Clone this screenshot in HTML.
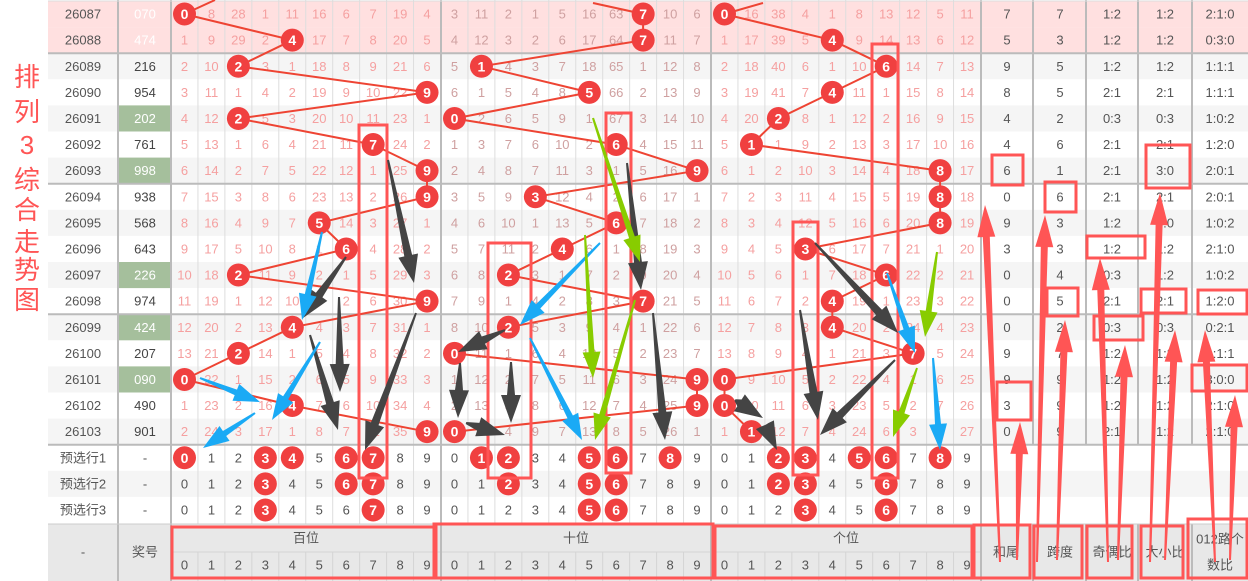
<!DOCTYPE html>
<html><head><meta charset="utf-8">
<style>
html,body{margin:0;padding:0;background:#fff;}
svg{display:block;font-family:"Liberation Sans","Noto Sans CJK SC",sans-serif;}
</style></head>
<body>
<svg id="s" width="1248" height="581" viewBox="0 0 1248 581" xmlns="http://www.w3.org/2000/svg"></svg>
<script>
var S=document.getElementById('s');var out=[];
function A(t){out.push(t);}
var draws=["070","474","216","954","202","761","998","938","568","643","226","974","424","207","090","490","901"];
var periods=[];for(var i=0;i<17;i++)periods.push(26087+i);
var green={26091:1,26093:1,26097:1,26099:1,26101:1};
var init=[[0,8,28,1,11,16,6,7,19,4],[3,11,2,1,5,16,63,0,10,6],[0,16,38,4,1,8,13,12,5,11]];
var RH=26.1;function ty(i){return 1+RH*i;}function cy(i){return ty(i)+RH/2;}
var sx=[171,441,711];var CW=26.95;function cx(s,d){return sx[s]+CW*d+13.5;}
for(var i=0;i<20;i++){var bg=i<2?'#ffe0e0':(i%2==0?'#f5f5f5':'#fff');
 A('<rect x="48" y="'+ty(i)+'" width="1200" height="'+RH+'" fill="'+bg+'"/>');}
for(var i=0;i<17;i++){if(green[periods[i]])A('<rect x="119" y="'+ty(i)+'" width="52" height="'+RH+'" fill="#a5bf9c"/>');}
A('<rect x="48" y="524" width="1200" height="57" fill="#e8e8e8"/>');
for(var s=0;s<3;s++)for(var d=1;d<10;d++){var x=sx[s]+CW*d;A('<line x1="'+x+'" y1="0" x2="'+x+'" y2="524" stroke="#ddd"/>');A('<line x1="'+x+'" y1="552" x2="'+x+'" y2="581" stroke="#d4d4d4"/>');}
A('<line x1="171" y1="552" x2="981" y2="552" stroke="#d4d4d4"/>');
[118,171,441,711,981,1033,1086,1138,1192].forEach(function(x){var y2=(x>981)?445:581;A('<line x1="'+x+'" y1="0" x2="'+x+'" y2="'+y2+'" stroke="#bbb" stroke-width="2"/>');});
[1033,1086,1138,1192].forEach(function(x){A('<line x1="'+x+'" y1="524" x2="'+x+'" y2="581" stroke="#bbb" stroke-width="2"/>');});
[ty(2),ty(7),ty(12),ty(17)].forEach(function(y){A('<line x1="48" y1="'+y+'" x2="1248" y2="'+y+'" stroke="#bbb" stroke-width="2"/>');});
A('<line x1="48" y1="1" x2="1248" y2="1" stroke="#ddd"/>');
A('<line x1="48" y1="524" x2="1248" y2="524" stroke="#ccc"/>');
var tt=[["排",77],["列",112],["3",145],["综",180],["合",210],["走",242],["势",270],["图",300]];
tt.forEach(function(t){A('<text x="27" y="'+(t[1]+9)+'" font-size="26" fill="#f55" text-anchor="middle">'+t[0]+'</text>');});
function T(x,y,t,c,sz){A('<text x="'+x+'" y="'+(y+4.5)+'" font-size="'+(sz||13)+'" fill="'+c+'" text-anchor="middle">'+t+'</text>');}
var cur=init.map(function(a){return a.slice();});
var balls=[[],[],[]];
for(var i=0;i<17;i++){
 var dg=draws[i].split('').map(Number);
 if(i>0){for(var s=0;s<3;s++)for(var d=0;d<10;d++){cur[s][d]++;} for(var s=0;s<3;s++)cur[s][dg[s]]=0;}
 for(var s=0;s<3;s++){balls[s].push([cx(s,dg[s]),cy(i)]);
  for(var d=0;d<10;d++){if(d!=dg[s])T(cx(s,d),cy(i),cur[s][d],s==1?'#cfa0a0':'#f5a0a0');}}
}
A('<line x1="184.5" y1="14" x2="215" y2="0" stroke="#e43" stroke-width="2"/>');
A('<line x1="593" y1="3" x2="643" y2="14" stroke="#e43" stroke-width="2"/>');
A('<line x1="724.5" y1="14" x2="763" y2="3" stroke="#e43" stroke-width="2"/>');
for(var s=0;s<3;s++){var p=balls[s].map(function(b){return b[0].toFixed(1)+','+b[1].toFixed(1);}).join(' ');A('<polyline points="'+p+'" fill="none" stroke="#e43" stroke-width="2"/>');}
function ball(x,y,t){A('<circle cx="'+x+'" cy="'+y+'" r="11.5" fill="#f04040"/>');A('<text x="'+x+'" y="'+(y+5)+'" font-size="14" font-weight="bold" fill="#fff" text-anchor="middle">'+t+'</text>');}
for(var i=0;i<17;i++){var dg=draws[i].split('').map(Number);for(var s=0;s<3;s++)ball(cx(s,dg[s]),cy(i),dg[s]);
 T(83,cy(i),periods[i],'#555',13);T(145,cy(i),draws[i],(i<2||green[periods[i]])?'#fff':'#444',13);
 var sum=dg[0]+dg[1]+dg[2];var odd=dg.filter(function(v){return v%2;}).length;var big=dg.filter(function(v){return v>=5;}).length;
 var m=[0,0,0];dg.forEach(function(v){m[v%3]++;});
 T(1007,cy(i),sum%10,'#555');T(1060,cy(i),Math.max.apply(0,dg)-Math.min.apply(0,dg),'#555');
 T(1112,cy(i),odd+':'+(3-odd),'#555');T(1165,cy(i),big+':'+(3-big),'#555');T(1220,cy(i),m.join(':'),'#555');}
var pre=[[[0,3,4,6,7],[1,2,5,6,8],[2,3,5,6,8]],[[3,6,7],[2,5,6],[2,3,6]],[[3,7],[5,6],[3,6]]];
for(var r=0;r<3;r++){var i=17+r;T(83,cy(i),'预选行'+(r+1),'#555');T(145,cy(i),'-','#555');
 for(var s=0;s<3;s++)for(var d=0;d<10;d++){if(pre[r][s].indexOf(d)>=0)ball(cx(s,d),cy(i),d);else T(cx(s,d),cy(i),d,'#555');}}
T(83,552,'-','#555');T(145,552,'奖号','#555');
T(306,538,'百位','#555');T(576,538,'十位','#555');T(846,538,'个位','#555');
for(var s=0;s<3;s++)for(var d=0;d<10;d++)T(cx(s,d),565,d,'#555');
T(1006,552,'和尾','#555');T(1060,552,'跨度','#555');T(1112,552,'奇偶比','#555');T(1165,552,'大小比','#555');
T(1220,539,'012路个','#555');T(1220,565,'数比','#555');
function R(x,y,w,h){A('<rect x="'+x+'" y="'+y+'" width="'+w+'" height="'+h+'" fill="none" stroke="#f55" stroke-width="3"/>');}
R(359,125,28,353);R(488,243,43,235);R(606,113,25,360);R(793,222,25,253);R(872,44,26,434);
R(992,155,31,30);R(997,382,34,38);R(1045,182,31,30);R(1047,288,31,28);
R(1087,236,58,22);R(1094,316,49,24);R(1146,145,44,43);R(1141,289,45,24);R(1198,290,49,24);R(1192,365,55,26);
R(172,527,264,51);R(434,524,279,54);R(715,526,257,52);R(974,525,56,53);R(1034,526,48,52);R(1087,526,45,52);R(1141,526,42,52);R(1188,519,59,59);
function W(x1,y1,x2,y2,c,w,hl,hw){var dx=x2-x1,dy=y2-y1,L=Math.sqrt(dx*dx+dy*dy),ux=dx/L,uy=dy/L,nx=-uy,ny=ux;
 var bx=x2-ux*hl,by=y2-uy*hl;
 var pts=[[x1+nx*1,y1+ny*1],[bx+nx*w,by+ny*w],[bx+nx*hw,by+ny*hw],[x2,y2],[bx-nx*hw,by-ny*hw],[bx-nx*w,by-ny*w],[x1-nx*1,y1-ny*1]];
 A('<polygon points="'+pts.map(function(p){return p[0].toFixed(1)+','+p[1].toFixed(1);}).join(' ')+'" fill="'+c+'"/>');}
var K='#444',B='#1aaaf5',G='#88cc00',RR='#f55';
[[388,160,414,283],[346,257,303,318],[339,297,340,392],[310,335,338,430],[416,313,365,450],
 [505,330,458,352],[460,363,458,418],[511,362,511,423],[466,423,505,435],[653,313,665,440],[627,163,641,290],
 [815,243,898,333],[800,310,818,420],[895,360,820,435],[735,400,763,418],[765,425,777,450]].forEach(function(a){W(a[0],a[1],a[2],a[3],K,4,28,10);});
[[322,232,302,320],[320,342,272,420],[200,378,260,402],[255,413,203,448],[600,243,520,325],[530,338,582,440],[887,273,915,353],[933,358,940,450]].forEach(function(a){W(a[0],a[1],a[2],a[3],B,3,26,9);});
[[593,118,640,262],[585,235,593,378],[635,300,595,440],[937,252,925,337],[917,368,893,437]].forEach(function(a){W(a[0],a[1],a[2],a[3],G,3,26,9);});
[[1000,562,985,205],[1017,560,1020,422],[1037,562,1045,215],[1057,560,1065,320],[1108,562,1100,258],[1118,560,1125,345],
 [1150,562,1160,193],[1165,560,1175,330],[1215,562,1205,330],[1230,560,1235,395]].forEach(function(a){W(a[0],a[1],a[2],a[3],RR,3.5,32,9);});
S.innerHTML=out.join('');
</script>
</body></html>
